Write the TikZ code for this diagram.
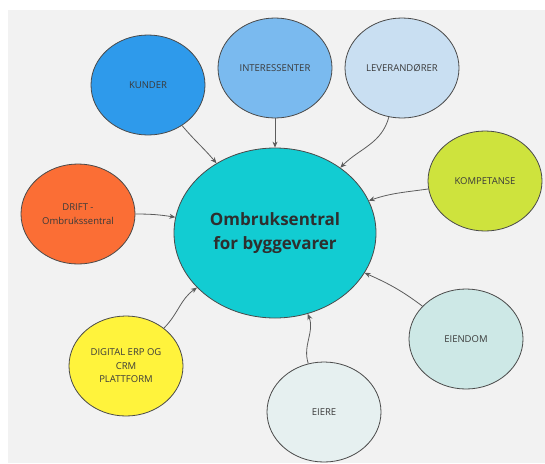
\documentclass[tikz,border=0pt]{standalone}
\usepackage{fontspec}
\setmainfont{Open Sans}
\usetikzlibrary{shapes.geometric,arrows.meta}
\definecolor{bggray}{HTML}{F2F2F2}
\definecolor{rim}{HTML}{4A4A4A}
\definecolor{ink}{HTML}{3A3A3A}
\definecolor{kunder}{HTML}{2E9AEB}
\definecolor{interess}{HTML}{7ABAEF}
\definecolor{lever}{HTML}{C9DFF2}
\definecolor{kompet}{HTML}{CEE33D}
\definecolor{drift}{HTML}{FB6E35}
\definecolor{hubcol}{HTML}{12CCD2}
\definecolor{digital}{HTML}{FFF33C}
\definecolor{eiendom}{HTML}{CDE8E6}
\definecolor{eiere}{HTML}{E6F0F0}
\tikzset{
  party/.style={ellipse,draw=rim,line width=0.8pt,inner sep=0pt,
    minimum width=114pt,minimum height=100pt,align=center,text=ink,
    font=\fontsize{9.5}{13.5}\selectfont},
  hub/.style={ellipse,draw=rim,line width=0.8pt,fill=hubcol,inner sep=0pt,
    minimum width=202pt,minimum height=170pt,align=center,text=ink!80!black,
    font=\fontsize{17}{24}\selectfont\bfseries}
}
\begin{document}
\begin{tikzpicture}[x=1pt,y=1pt,->,>={Stealth[length=6pt,width=5pt]},
  every edge/.style={draw=rim!90,line width=0.8pt}]
\useasboundingbox (0,0) rectangle (545,-463);
\fill[bggray] (8,-10) rectangle (545,-463);
% the hub in the middle
\node[hub] (H) at (275,-233) {Ombruksentral\\for byggevarer};
% parties round it
\node[party,fill=kunder] (K) at (148,-85) {KUNDER};
\node[party,fill=interess] (I) at (275,-68) {INTERESSENTER};
\node[party,fill=lever] (L) at (402,-68) {LEVERANDØRER};
\node[party,fill=kompet] (KP) at (485,-181) {KOMPETANSE};
\node[party,fill=drift] (D) at (78,-214) {DRIFT -\\Ombrukssentral};
\node[party,fill=digital] (DG) at (126,-366) {DIGITAL ERP OG\\CRM\\PLATTFORM};
\node[party,fill=eiendom] (ED) at (466,-339) {EIENDOM};
\node[party,fill=eiere] (E) at (324,-412) {EIERE};
\path
  (K) edge [out=-50,in=130] (H)
  (I) edge (H)
  (L) edge [out=-105,in=45] (H)
  (KP) edge [out=188,in=19] (H)
  (D) edge [out=0,in=171] (H)
  (DG) edge [out=45,in=215] (H)
  (E) edge [out=108,in=-68] (H)
  (ED) edge [out=143,in=-24] (H)
;
\end{tikzpicture}
\end{document}
